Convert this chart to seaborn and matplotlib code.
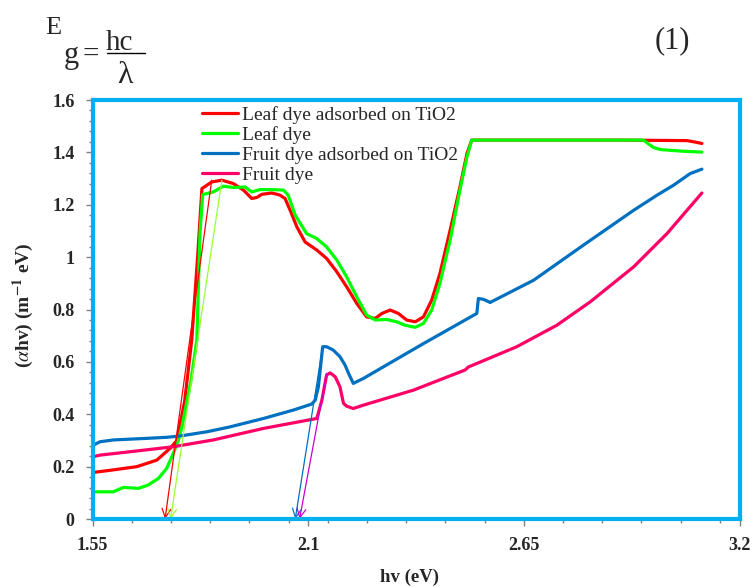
import numpy as np
import pandas as pd
import matplotlib
matplotlib.use("Agg")
import matplotlib.pyplot as plt
import seaborn as sns
from matplotlib.lines import Line2D


# Curves (hv in eV, alpha*hv)
red_x = [1.552, 1.60, 1.663, 1.714, 1.748, 1.765, 1.785, 1.803, 1.818, 1.829, 1.854, 1.88, 1.909,
         1.935, 1.956, 1.969, 1.982, 2.007, 2.028, 2.041, 2.054, 2.071, 2.092, 2.122, 2.147, 2.173,
         2.198, 2.224, 2.249, 2.271, 2.288, 2.309, 2.33, 2.351, 2.373, 2.394, 2.415, 2.436, 2.462,
         2.487, 2.505, 2.517, 2.70, 2.90, 3.066, 3.085, 3.104]
red_y = [0.178, 0.187, 0.20, 0.225, 0.27, 0.30, 0.45, 0.683, 1.0, 1.262, 1.287, 1.294, 1.281,
         1.256, 1.224, 1.228, 1.240, 1.245, 1.237, 1.224, 1.179, 1.116, 1.058, 1.027, 0.995, 0.944,
         0.887, 0.823, 0.772, 0.766, 0.785, 0.798, 0.785, 0.760, 0.753, 0.772, 0.836, 0.938, 1.103,
         1.268, 1.396, 1.447, 1.447, 1.447, 1.445, 1.44, 1.434]

green_x = [1.552, 1.603, 1.629, 1.667, 1.692, 1.718, 1.739, 1.756, 1.769, 1.778, 1.80, 1.816, 1.824,
           1.831, 1.858, 1.884, 1.909, 1.939, 1.956, 1.977, 2.007, 2.037, 2.049, 2.067, 2.096, 2.122,
           2.147, 2.173, 2.198, 2.224, 2.249, 2.271, 2.30, 2.326, 2.347, 2.373, 2.394, 2.415, 2.436,
           2.462, 2.487, 2.505, 2.517, 2.70, 2.955, 2.98, 2.998, 3.05, 3.104]
green_y = [0.104, 0.104, 0.121, 0.117, 0.13, 0.155, 0.193, 0.251, 0.30, 0.352, 0.52, 0.683, 1.09,
           1.239, 1.249, 1.271, 1.266, 1.268, 1.249, 1.258, 1.258, 1.256, 1.237, 1.160, 1.090, 1.071,
           1.039, 0.989, 0.925, 0.848, 0.779, 0.760, 0.762, 0.753, 0.740, 0.732, 0.747, 0.798, 0.90,
           1.065, 1.256, 1.383, 1.447, 1.447, 1.447, 1.419, 1.411, 1.405, 1.401]

blue_x = [1.552, 1.569, 1.603, 1.688, 1.739, 1.773, 1.841, 1.901, 1.986, 2.062, 2.109, 2.118, 2.126,
          2.137, 2.147, 2.164, 2.181, 2.194, 2.203, 2.215, 2.241, 2.394, 2.53, 2.534, 2.547, 2.564,
          2.675, 2.802, 2.93, 2.99, 3.032, 3.074, 3.104]
blue_y = [0.282, 0.295, 0.302, 0.308, 0.312, 0.317, 0.333, 0.352, 0.384, 0.416, 0.439, 0.454, 0.505,
          0.658, 0.658, 0.645, 0.62, 0.588, 0.556, 0.518, 0.537, 0.67, 0.785, 0.842, 0.839, 0.827,
          0.912, 1.046, 1.179, 1.237, 1.275, 1.319, 1.336]

pink_x = [1.552, 1.569, 1.646, 1.756, 1.858, 1.986, 2.122, 2.135, 2.147, 2.156, 2.169, 2.181, 2.19,
          2.198, 2.215, 2.241, 2.368, 2.50, 2.509, 2.53, 2.632, 2.734, 2.819, 2.93, 3.015, 3.104]
pink_y = [0.238, 0.244, 0.257, 0.276, 0.302, 0.346, 0.384, 0.454, 0.55, 0.558, 0.543, 0.505, 0.442,
          0.431, 0.422, 0.435, 0.492, 0.569, 0.581, 0.594, 0.658, 0.74, 0.829, 0.963, 1.09, 1.245]

series_names = ["Leaf dye adsorbed on TiO2", "Leaf dye", "Fruit dye adsorbed on TiO2", "Fruit dye"]
series_colors = ["#FF0000", "#00FF00", "#0070C0", "#FF0066"]

# tangent lines drawn down to the axis (band gap estimates)
tangent_top_x = [1.854, 1.88, 2.137, 2.147]
tangent_top_y = [1.294, 1.294, 0.658, 0.556]
tangent_foot_x = [1.735, 1.749, 2.067, 2.078]
tangent_colors = ["#FF0000", "#99FF33", "#0070C0", "#CC00CC"]

x_ticks = [1.55, 2.1, 2.65, 3.2]
x_ticklabels = ["1.55", "2.1", "2.65", "3.2"]
y_ticks = [0, 0.2, 0.4, 0.6, 0.8, 1.0, 1.2, 1.4, 1.6]
y_ticklabels = ["0", "0.2", "0.4", "0.6", "0.8", "1", "1.2", "1.4", "1.6"]


sns.set_style("white")
plt.rcParams["font.family"] = ["Liberation Serif", "DejaVu Serif"]
plt.rcParams["mathtext.fontset"] = "stix"

fig = plt.figure(figsize=(7.54, 5.87), dpi=100)
ax = fig.add_axes([0.1227, 0.1158, 0.8581, 0.7138])

all_x = [red_x, green_x, blue_x, pink_x]
all_y = [red_y, green_y, blue_y, pink_y]
for xs, ys, name, col in zip(all_x, all_y, series_names, series_colors):
    sns.lineplot(x=xs, y=ys, ax=ax, color=col, linewidth=2.3, sort=False,
                 estimator=None, label=name)

# tangents with open arrow heads
for tx, ty, fx, col in zip(tangent_top_x, tangent_top_y, tangent_foot_x, tangent_colors):
    ax.annotate("", xy=(fx, 0), xytext=(tx, ty),
                arrowprops=dict(arrowstyle="->", color=col, lw=0.9,
                                mutation_scale=16, shrinkA=0, shrinkB=0))

ax.set_xlim(1.55, 3.2)
ax.set_ylim(0, 1.6)
ax.set_xticks(x_ticks)
ax.set_xticklabels(x_ticklabels, fontweight="bold", fontsize=13)
ax.set_xticks(np.arange(1.65, 3.19, 0.1), minor=True)
ax.set_yticks(y_ticks)
ax.set_yticklabels(y_ticklabels, fontweight="bold", fontsize=13)
ax.set_yticks(np.arange(0, 1.61, 0.04), minor=True)
ax.tick_params(which="both", direction="out", color="#808080", left=True, bottom=True, width=1)
ax.tick_params(which="major", length=5)
ax.tick_params(which="minor", length=3)
ax.tick_params(axis="y", pad=8)
ax.tick_params(axis="x", pad=8)

for sp in ax.spines.values():
    sp.set_color("#00B0F0")
    sp.set_linewidth(3)
    sp.set_zorder(5)

ax.set_xlabel("hv (eV)", fontweight="bold", fontsize=13.5)
ax.xaxis.set_label_coords(0.49, -0.119)
ax.set_ylabel(r"($\alpha$hv) (m$^{\mathbf{-1}}$ eV)", fontweight="bold", fontsize=14)
ax.yaxis.set_label_coords(-0.088, 0.511)

ax.legend(loc="upper left", bbox_to_anchor=(0.169, 0.985), frameon=False, fontsize=14,
          handlelength=1.85, handletextpad=0.2, labelspacing=0.11, borderpad=0, borderaxespad=0)

# equation in the header
fig.text(45 / 754, 1 - 34 / 587, "E", fontsize=19, va="baseline")
fig.text(64 / 754, 1 - 63 / 587, "g", fontsize=22, va="baseline")
fig.text(82 / 754, 1 - 62 / 587, "=", fontsize=21, va="baseline")
fig.text(106 / 754, 1 - 50 / 587, "hc", fontsize=21, va="baseline")
fig.add_artist(Line2D([107 / 754, 145 / 754], [1 - 53 / 587, 1 - 53 / 587], color="black", lw=1))
fig.text(117 / 754, 1 - 83 / 587, "λ", fontsize=23, va="baseline")
fig.text(655 / 754, 1 - 48 / 587, "(1)", fontsize=22, va="baseline")

fig.savefig("out.png", dpi=100)
